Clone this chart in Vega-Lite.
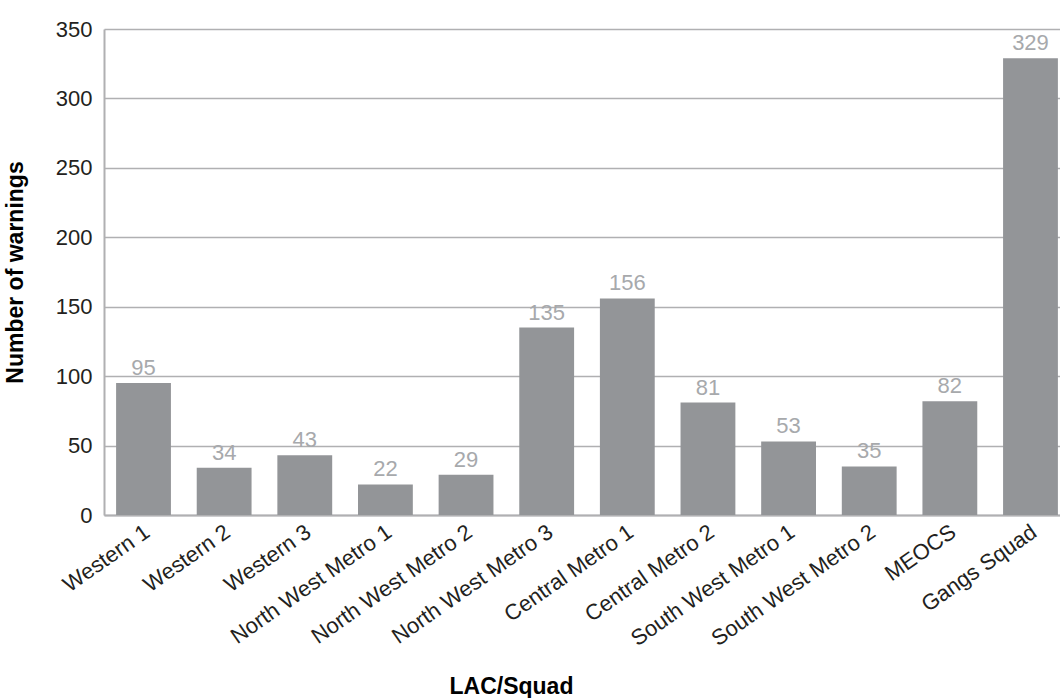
{
  "$schema": "https://vega.github.io/schema/vega-lite/v6.json",
  "autosize": "none",
  "padding": {"left": 104, "top": 29, "right": 0, "bottom": 183},
  "width": 966,
  "height": 486,
  "background": "white",
  "config": {
    "font": "Liberation Sans",
    "view": {"stroke": null}
  },
  "data": {
    "values": [
      {"unit": "Western 1", "warnings": 95},
      {"unit": "Western 2", "warnings": 34},
      {"unit": "Western 3", "warnings": 43},
      {"unit": "North West Metro 1", "warnings": 22},
      {"unit": "North West Metro 2", "warnings": 29},
      {"unit": "North West Metro 3", "warnings": 135},
      {"unit": "Central Metro 1", "warnings": 156},
      {"unit": "Central Metro 2", "warnings": 81},
      {"unit": "South West Metro 1", "warnings": 53},
      {"unit": "South West Metro 2", "warnings": 35},
      {"unit": "MEOCS", "warnings": 82},
      {"unit": "Gangs Squad", "warnings": 329}
    ]
  },
  "encoding": {
    "x": {
      "field": "unit",
      "type": "nominal",
      "sort": null,
      "scale": {"paddingInner": 0.32, "paddingOuter": 0.15},
      "axis": {
        "title": "LAC/Squad",
        "titleFontSize": 23,
        "titleFontWeight": "bold",
        "titleColor": "#000000",
        "titleAlign": "left",
        "titleAnchor": null,
        "titleBaseline": "alphabetic",
        "titleX": 345,
        "titleY": 178,
        "labelAngle": -35,
        "labelAlign": "right",
        "labelBaseline": "top",
        "labelFontSize": 22,
        "labelColor": "#231f20",
        "labelPadding": 6,
        "labelOffset": -2,
        "labelLimit": 0,
        "ticks": false,
        "domain": true,
        "domainColor": "#b0b0b2",
        "domainWidth": 2,
        "labelOverlap": false,
        "labelBound": false
      }
    },
    "y": {
      "field": "warnings",
      "type": "quantitative",
      "scale": {"domain": [0, 350], "nice": false},
      "axis": {
        "title": "Number of warnings",
        "titleFontSize": 23,
        "titleFontWeight": "bold",
        "titleColor": "#000000",
        "titleX": -77,
        "titleY": 243,
        "titleBaseline": "bottom",
        "values": [0, 50, 100, 150, 200, 250, 300, 350],
        "labelFontSize": 22,
        "labelColor": "#231f20",
        "labelPadding": 12,
        "ticks": false,
        "domain": true,
        "domainColor": "#b0b0b2",
        "domainWidth": 2,
        "grid": true,
        "gridColor": "#b0b0b2",
        "gridWidth": 1.5
      }
    }
  },
  "layer": [
    {"mark": {"type": "bar", "color": "#939598"}},
    {
      "mark": {"type": "text", "dy": -8, "fontSize": 22, "color": "#a7a9ac", "baseline": "alphabetic"},
      "encoding": {"text": {"field": "warnings", "type": "quantitative"}}
    }
  ]
}
